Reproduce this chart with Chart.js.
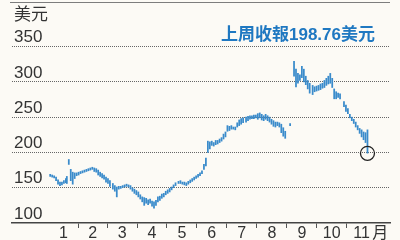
<!DOCTYPE html>
<html>
<head>
<meta charset="utf-8">
<script src="https://cdn.jsdelivr.net/npm/chart.js@4.4.1/dist/chart.umd.min.js"></script>
<style>
	html, body { margin: 0; padding: 0; background: #fcfaf5; }
	#wrap { position: relative; width: 400px; height: 240px; }
	#topline { position: absolute; left: 10px; top: 2px; width: 380px; border-top: 1.5px solid #7d7d7d; }
	#headline {
		position: absolute; right: 25px; top: 20px; line-height: 20px; white-space: nowrap;
		font: bold 17px 'Liberation Sans', 'Noto Sans CJK TC', sans-serif; color: #1f78c1;
	}
</style>
</head>
<body>
<div id="wrap">
	<canvas id="chart" width="400" height="240"></canvas>
	<div id="topline"></div>
	<div id="headline"></div>
</div>
<script>
// day of year for each bar, with the daily low / high
const days = [
	3, 5, 7, 9, 11, 13, 15, 17, 19, 20, 22, 24, 26, 28, 30, 32, 34, 36, 38, 40,
	42, 44, 46, 48, 50, 52, 54, 56, 58, 60, 62, 64, 67, 69, 71, 73, 75, 77, 79, 81,
	83, 85, 87, 89, 91, 93, 95, 97, 99, 101, 103, 105, 107, 109, 111, 113, 115, 117, 119, 121,
	123, 125, 127, 129, 131, 134, 136, 138, 140, 142, 144, 146, 148, 150, 152, 154, 156, 158, 160, 162,
	164, 166, 168, 170, 172, 174, 176, 178, 180, 182, 184, 186, 188, 190, 192, 194, 196, 198, 200, 203,
	205, 207, 209, 211, 213, 215, 217, 219, 221, 223, 225, 227, 229, 231, 233, 235, 237, 239, 241, 243,
	248, 252, 254, 256, 258, 260, 262, 264, 266, 268, 271, 273, 275, 277, 279, 281, 283, 285, 287, 289,
	291, 293, 295, 297, 299, 303, 305, 307, 309, 311, 313, 315, 317, 319, 321, 323, 325, 327,
];
const lows = [
	166, 165, 164, 160, 155, 153, 154, 156, 157, 156, 183, 160, 155, 163, 167, 168, 170, 171, 172, 173,
	174, 175, 176, 173, 172, 168, 166, 164, 162, 158, 156, 152, 148, 145, 137, 148, 149, 150, 151, 152,
	151, 148, 145, 142, 140, 137, 134, 130, 125, 128, 126, 128, 124, 121, 125, 130, 132, 135, 137, 140,
	142, 144, 147, 150, 153, 156, 156, 155, 154, 153, 155, 157, 159, 161, 163, 165, 167, 170, 176, 181,
	200, 205, 210, 209, 211, 212, 214, 216, 219, 222, 230, 231, 233, 233, 232, 236, 238, 240, 242, 243,
	245, 247, 248, 248, 249, 247, 249, 246, 245, 247, 245, 243, 240, 237, 236, 238, 236, 228, 223, 220,
	238, 308, 293, 298, 302, 306, 300, 296, 290, 284, 282, 286, 287, 288, 289, 291, 292, 295, 297, 298,
	292, 276, 276, 278, 276, 265, 258, 255, 249, 245, 241, 236, 232, 227, 222, 218, 214, 199,
];
const highs = [
	169, 168, 167, 165, 161, 158, 158, 160, 163, 166, 190, 176, 172, 171, 171, 172, 173, 174, 175, 176,
	177, 178, 179, 178, 177, 175, 172, 170, 168, 165, 163, 160, 156, 153, 151, 152, 152, 153, 154, 155,
	154, 153, 150, 148, 146, 144, 140, 137, 136, 135, 133, 134, 131, 130, 132, 137, 138, 141, 142, 145,
	147, 149, 151, 154, 157, 159, 160, 158, 158, 157, 159, 161, 163, 165, 167, 169, 171, 174, 183, 192,
	216, 215, 216, 214, 217, 217, 219, 221, 226, 229, 238, 237, 238, 236, 236, 242, 246, 248, 249, 250,
	251, 252, 252, 253, 253, 255, 256, 254, 252, 254, 252, 250, 247, 245, 243, 243, 242, 240, 235, 230,
	241, 329, 318, 312, 310, 322, 318, 308, 302, 298, 295, 293, 294, 295, 297, 298, 302, 305, 308, 312,
	305, 290, 286, 284, 283, 272, 267, 262, 254, 250, 247, 243, 238, 234, 232, 229, 228, 232,
];
const lastClose = 198.76;

// first day of each month (leap year), month tick labels, price ticks
const monthStarts = [1, 32, 61, 92, 122, 153, 183, 214, 245, 275, 306, 336];
const xLabels = ['1', '2', '3', '4', '5', '6', '7', '8', '9', '10', '11', '月'];
const unitDay = 340; // where the 月 unit sits after the last month
const yTicks = [100, 150, 200, 250, 300, 350, 382];
const yUnit = '美元';

document.getElementById('headline').textContent = `上周收報${lastClose}美元`;

const labelDays = monthStarts.slice(0, -1).map((s, i) => (s + monthStarts[i + 1]) / 2);
labelDays.push(unitDay);

const font = "'Liberation Sans', 'Noto Sans CJK TC', sans-serif";

new Chart(document.getElementById('chart'), {
	type: 'bar',
	data: {
		datasets: [
			{
				label: 'close',
				type: 'line',
				data: [{ x: days[days.length - 1], y: lastClose }],
				showLine: false,
				pointRadius: 7,
				pointBorderWidth: 1.3,
				pointBorderColor: '#222',
				pointBackgroundColor: 'rgba(0,0,0,0)',
				order: -1,
			},
			{
				label: 'range',
				data: days.map((d, i) => ({ x: d, y: [lows[i], highs[i]] })),
				backgroundColor: '#3a8bcb',
				barThickness: 1.1,
				borderWidth: 0,
			},
		],
	},
	options: {
		responsive: false,
		animation: false,
		devicePixelRatio: 1,
		layout: { padding: { left: 8, right: 10, top: 24, bottom: 0 } },
		plugins: { legend: { display: false }, tooltip: { enabled: false } },
		scales: {
			x: {
				type: 'linear',
				min: -36,
				max: 350,
				offset: false,
				afterBuildTicks: (scale) => {
					scale.ticks = labelDays.map((v) => ({ value: v }));
				},
				ticks: {
					autoSkip: false,
					maxRotation: 0,
					padding: -2,
					color: '#333',
					font: { family: font, size: 16, lineHeight: 1 },
					callback: (v, i) => xLabels[i],
				},
				grid: {
					offset: true,
					drawOnChartArea: false,
					tickLength: 5,
					tickWidth: 1,
					tickColor: (ctx) => (ctx.index >= 1 && ctx.index <= 10 ? '#555' : 'rgba(0,0,0,0)'),
				},
				border: { color: '#444', width: 1.5 },
			},
			y: {
				min: 100,
				max: 382,
				afterBuildTicks: (scale) => {
					scale.ticks = yTicks.map((v) => ({ value: v }));
				},
				ticks: {
					mirror: true,
					padding: 2,
					labelOffset: -9,
					color: '#333',
					font: { family: font, size: 17 },
					callback: (v) => (v === 382 ? yUnit : v),
				},
				grid: {
					drawTicks: false,
					lineWidth: 1,
					color: (ctx) => (ctx.tick && ctx.tick.value > 100 && ctx.tick.value <= 350 ? '#666' : 'rgba(0,0,0,0)'),
				},
				border: { display: false, dash: [1, 1] },
			},
		},
	},
});
</script>
</body>
</html>
